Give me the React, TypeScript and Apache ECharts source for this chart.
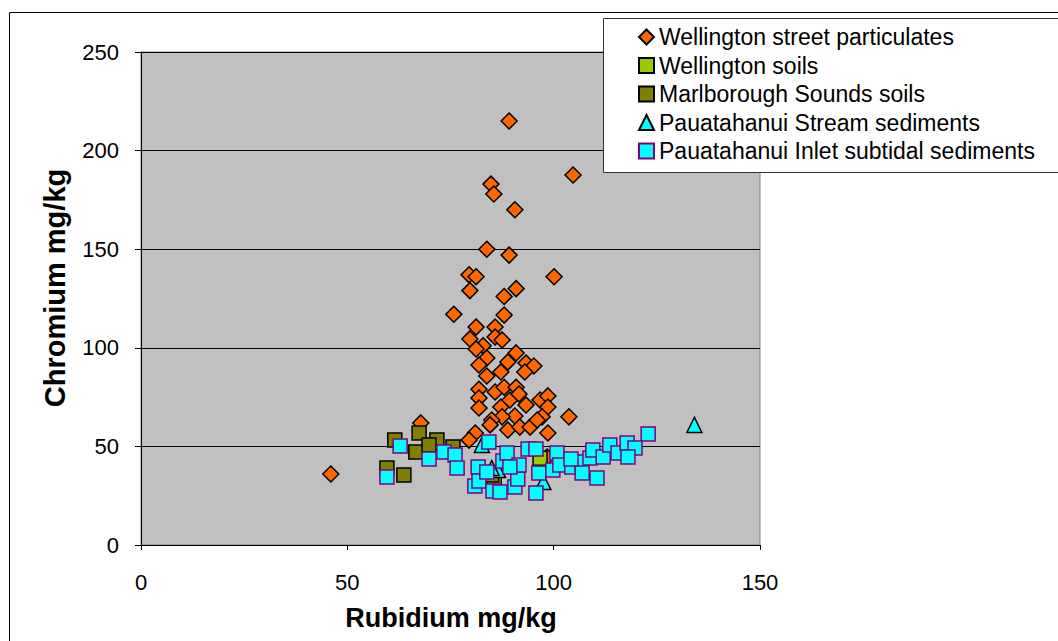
import React, { useEffect, useRef } from "react";
import * as echarts from "echarts";

const seriesNames = [
  "Wellington street particulates",
  "Wellington soils",
  "Marlborough Sounds soils",
  "Pauatahanui Stream sediments",
  "Pauatahanui Inlet subtidal sediments",
];

const xTicks = [0, 50, 100, 150];
const yTicks = [0, 50, 100, 150, 200, 250];
const xTitle = "Rubidium mg/kg";
const yTitle = "Chromium mg/kg";

// [Rubidium mg/kg, Chromium mg/kg]
const streetParticulates: number[][] = [
  [46.0, 36], [89.2, 215], [104.7, 187.6], [84.8, 183], [85.5, 178], [90.6, 170],
  [83.8, 150], [89.2, 147], [100.1, 136], [79.5, 137], [81.2, 136], [79.7, 129],
  [90.9, 130], [88, 126], [75.8, 117], [88, 116.6], [81.2, 110.5], [85.8, 110.5],
  [79.7, 104.5], [85.8, 105.5], [87.5, 104], [82.9, 101], [81.2, 99.4], [83.8, 94.8],
  [90.9, 97.4], [88.9, 92.8], [93.3, 92.3], [95.2, 90.8], [93, 87.7], [81.9, 91.3],
  [83.8, 85.7], [87.2, 87.7], [81.9, 79], [85.8, 77.6], [88, 80], [90.9, 80],
  [81.9, 74.5], [81.9, 69.5], [87.2, 70], [89.4, 73.5], [91.6, 76.6], [93.3, 71],
  [96.7, 73.5], [98.6, 75.6], [98.6, 70], [103.7, 65], [90.6, 65.4], [87.5, 65],
  [85, 63.4], [97.2, 65], [88.9, 58.3], [84.6, 60.9], [91.8, 59.8], [94.3, 59.8],
  [98.6, 56.8], [81, 56.8], [79.5, 53.2], [67.8, 61.9], [98.4, 44.6], [96, 63.4],
];

const wellingtonSoils: number[][] = [
  [96.7, 44], [85.6, 33], [84.5, 36],
];

const marlboroughSoils: number[][] = [
  [61.5, 53.2], [67.4, 56.8], [71.7, 53.2], [66.6, 47.2], [69.8, 50.7],
  [75.6, 49.7], [59.6, 39], [63.7, 35.5], [85, 35.5],
];

const streamSediments: number[][] = [
  [134.1, 60.9], [86.5, 38], [82.6, 50.7], [97.5, 32], [85, 39],
];

const inletSubtidal: number[][] = [
  [59.6, 34.5], [62.8, 50.2], [69.8, 43.6], [73.4, 47.2], [76.1, 45.6], [76.6, 39],
  [84.3, 52.2], [81.7, 39.6], [80.9, 29.9], [81.9, 32.5], [83.8, 37], [85.3, 27.4],
  [87, 26.9], [87.7, 42.6], [88.7, 46.7], [90.6, 29.4], [91.3, 33.5], [91.6, 40.6],
  [93.8, 48.7], [95.7, 48.7], [96.4, 36.5], [95.7, 26.4], [100.8, 46.7], [99.8, 38],
  [101.5, 40.6], [104.4, 39.6], [106.9, 42.1], [106.9, 36.5], [108.8, 44.1],
  [109.5, 48.2], [110.5, 34], [112, 44.6], [113.6, 50.7], [115.6, 46.7], [117.8, 51.7],
  [119.7, 49.2], [118, 44.6], [122.9, 56.3], [89.4, 39.6], [104.2, 43.6],
];

const FONT = "'Liberation Sans', Arial, sans-serif";

export default function App() {
  const ref = useRef<HTMLDivElement>(null);

  useEffect(() => {
    if (!ref.current) return;
    const chart = echarts.init(ref.current, undefined, { renderer: "svg" });
    chart.setOption({
      animation: false,
      backgroundColor: "#ffffff",
      textStyle: { fontFamily: FONT },
      grid: {
        left: 141,
        top: 52,
        right: 298,
        bottom: 96,
        show: true,
        backgroundColor: "#C0C0C0",
        borderColor: "#808080",
        borderWidth: 1,
      },
      graphic: [
        {
          type: "rect",
          z: 0,
          silent: true,
          shape: { x: 9.5, y: 12.5, width: 1100, height: 700 },
          style: { fill: "none", stroke: "#000", lineWidth: 1 },
        },
        {
          type: "rect",
          z: 5,
          silent: true,
          shape: { x: 603.5, y: 18.5, width: 500, height: 154 },
          style: { fill: "#fff", stroke: "#333", lineWidth: 1 },
        },
        {
          type: "text",
          z: 5,
          silent: true,
          x: 451,
          y: 618,
          style: {
            text: xTitle,
            fontSize: 27,
            fontWeight: "bold",
            fontFamily: FONT,
            fill: "#000",
            align: "center",
            verticalAlign: "middle",
          },
        },
        {
          type: "text",
          z: 5,
          silent: true,
          x: 55,
          y: 288,
          rotation: Math.PI / 2,
          style: {
            text: yTitle,
            fontSize: 29,
            fontWeight: "bold",
            fontFamily: FONT,
            fill: "#000",
            align: "center",
            verticalAlign: "middle",
          },
        },
      ],
      legend: {
        orient: "vertical",
        left: 638,
        top: 25.5,
        z: 10,
        itemWidth: 15,
        itemHeight: 15,
        itemGap: 5.5,
        padding: 0,
        textStyle: { fontSize: 23, color: "#000", fontFamily: FONT },
        data: seriesNames,
      },
      xAxis: {
        type: "value",
        min: 0,
        max: 150,
        interval: 50,
        axisLine: { show: true, onZero: false, lineStyle: { color: "#000", width: 1 } },
        axisTick: { show: true, inside: false, length: 5, lineStyle: { color: "#000" } },
        axisLabel: {
          fontSize: 22,
          color: "#000",
          margin: 26,
          fontFamily: FONT,
          formatter: (v: number) => (xTicks.includes(v) ? String(v) : ""),
        },
        splitLine: { show: false },
      },
      yAxis: {
        type: "value",
        min: 0,
        max: 250,
        interval: 50,
        axisLine: { show: true, onZero: false, lineStyle: { color: "#000", width: 1 } },
        axisTick: { show: true, inside: false, length: 6, lineStyle: { color: "#000" } },
        axisLabel: {
          fontSize: 22,
          color: "#000",
          margin: 22,
          fontFamily: FONT,
          formatter: (v: number) => (yTicks.includes(v) ? String(v) : ""),
        },
        splitLine: { show: true, lineStyle: { color: "#000", width: 1 } },
      },
      series: [
        {
          name: seriesNames[0],
          type: "scatter",
          symbol: "diamond",
          symbolSize: 16,
          data: streetParticulates,
          itemStyle: { color: "#FF6600", borderColor: "#000", borderWidth: 1.5, opacity: 1 },
        },
        {
          name: seriesNames[1],
          type: "scatter",
          symbol: "rect",
          symbolSize: 14,
          data: wellingtonSoils,
          itemStyle: { color: "#99CC00", borderColor: "#000", borderWidth: 1.5, opacity: 1 },
        },
        {
          name: seriesNames[2],
          type: "scatter",
          symbol: "rect",
          symbolSize: 14,
          data: marlboroughSoils,
          itemStyle: { color: "#808000", borderColor: "#000", borderWidth: 1.5, opacity: 1 },
        },
        {
          name: seriesNames[3],
          type: "scatter",
          symbol: "triangle",
          symbolSize: 15,
          data: streamSediments,
          itemStyle: { color: "#00FFFF", borderColor: "#000", borderWidth: 1.5, opacity: 1 },
        },
        {
          name: seriesNames[4],
          type: "scatter",
          symbol: "rect",
          symbolSize: 14,
          data: inletSubtidal,
          itemStyle: { color: "#00FFFF", borderColor: "#800080", borderWidth: 1.5, opacity: 1 },
        },
      ],
    });
    return () => chart.dispose();
  }, []);

  return (
    <div
      ref={ref}
      style={{ position: "fixed", left: 0, top: 0, width: 1058, height: 641 }}
    />
  );
}
